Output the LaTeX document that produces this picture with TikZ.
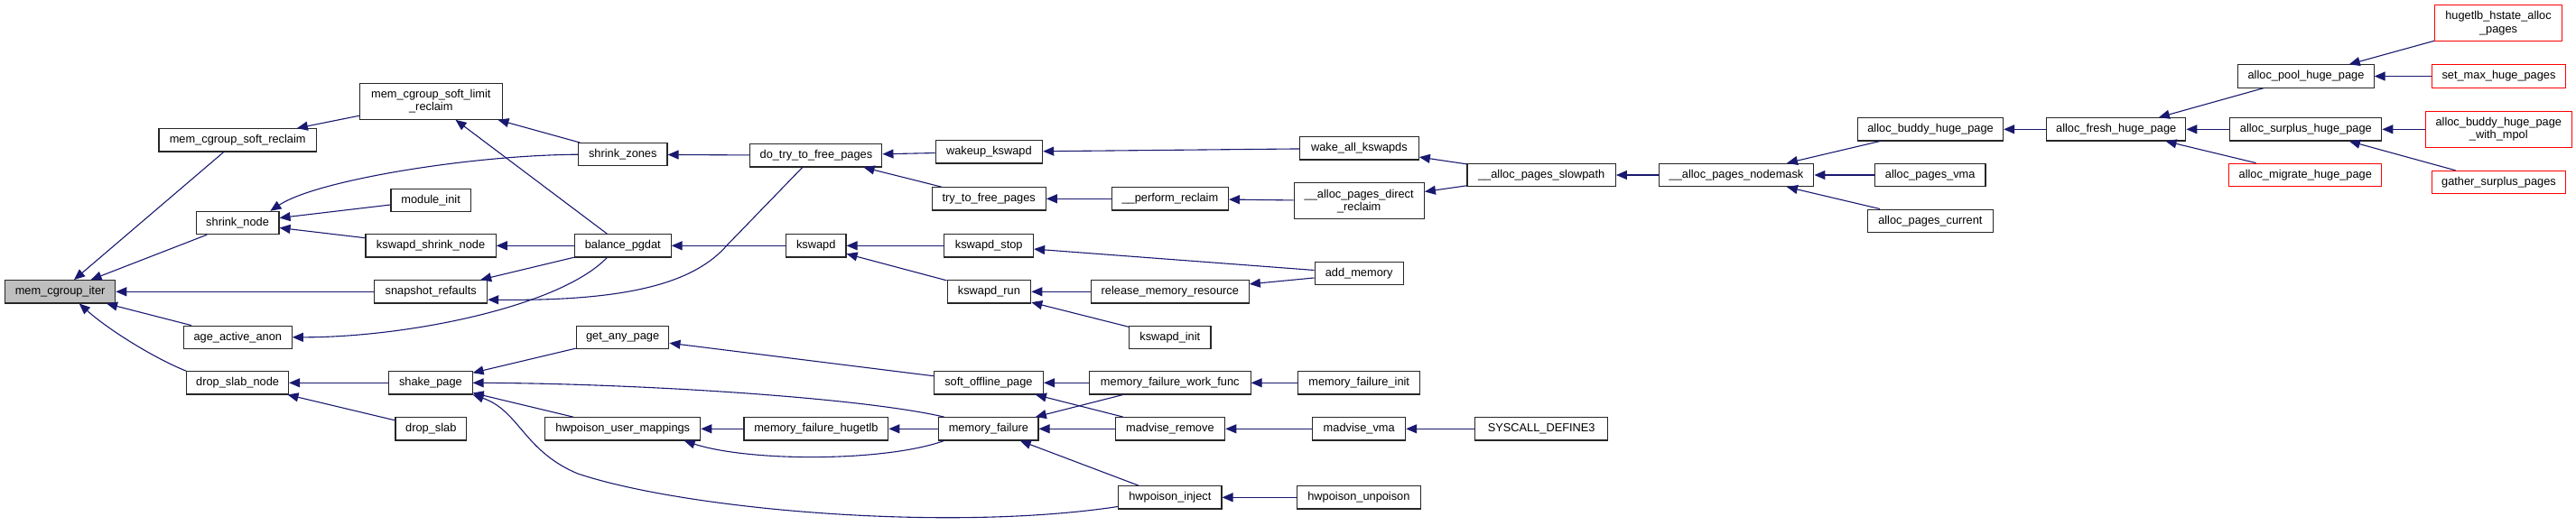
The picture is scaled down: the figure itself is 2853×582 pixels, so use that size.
\documentclass[tikz,border=0pt]{standalone}
\usepackage{fontspec}
\setmainfont{Liberation Sans}
\usetikzlibrary{arrows.meta}
\definecolor{edgeblue}{HTML}{191970}
\definecolor{rootgray}{HTML}{BFBFBF}
\tikzset{
  fnbox/.style={draw=black!85, line width=1.1pt, fill=white, align=center,
                inner sep=2pt, minimum height=25.3pt,
                font=\fontsize{12.8}{14.2}\selectfont},
  tallbox/.style={minimum height=40pt},
  rootbox/.style={fnbox, fill=rootgray},
  redbox/.style={fnbox, draw=red},
  callarrow/.style={{Triangle[length=12pt, width=10pt]}-, draw=edgeblue,
                    line width=1.1pt}
}

\begin{document}
\begin{tikzpicture}[x=1pt, y=1pt]
  \useasboundingbox (0,0) rectangle (2853,-582);

  \node[rootbox, minimum width=122.2pt] (iter) at (66.6,-323.3) {mem\_cgroup\_iter};

  \node[fnbox, minimum width=174.5pt] (softReclaim) at (263.2,-155.3) {mem\_cgroup\_soft\_reclaim};
  \node[fnbox, minimum width=91.8pt] (shrinkNode) at (263.1,-247) {shrink\_node};
  \node[fnbox, minimum width=119.9pt] (ageAnon) at (263.3,-373.8) {age\_active\_anon};
  \node[fnbox, minimum width=113pt] (dropSlabNode) at (263.1,-424.3) {drop\_slab\_node};

  \node[fnbox, tallbox, minimum width=157.5pt] (softLimit) at (477.3,-112.3) {mem\_cgroup\_soft\_limit\\\_reclaim};
  \node[fnbox, minimum width=88.2pt] (moduleInit) at (477.1,-221.7) {module\_init};
  \node[fnbox, minimum width=144.2pt] (kswapdShrink) at (477.1,-272.3) {kswapd\_shrink\_node};
  \node[fnbox, minimum width=124.9pt] (snapshot) at (477.2,-323.3) {snapshot\_refaults};
  \node[fnbox, minimum width=92.3pt] (shakePage) at (476.9,-424.3) {shake\_page};
  \node[fnbox, minimum width=78.6pt] (dropSlab) at (477.3,-475.3) {drop\_slab};

  \node[fnbox, minimum width=98.4pt] (shrinkZones) at (689.8,-171.2) {shrink\_zones};
  \node[fnbox, minimum width=106.7pt] (balance) at (689.8,-272.3) {balance\_pgdat};
  \node[fnbox, minimum width=102.6pt] (anyPage) at (689.6,-373.8) {get\_any\_page};
  \node[fnbox, minimum width=171.9pt] (userMap) at (689.8,-475.3) {hwpoison\_user\_mappings};

  \node[fnbox, minimum width=146pt] (doTry) at (903.9,-172.3) {do\_try\_to\_free\_pages};
  \node[fnbox, minimum width=66.6pt] (kswapd) at (903.7,-272.3) {kswapd};
  \node[fnbox, minimum width=159.8pt] (mfHugetlb) at (903.9,-475.3) {memory\_failure\_hugetlb};

  \node[fnbox, minimum width=118.5pt] (wakeup) at (1095.4,-168.3) {wakeup\_kswapd};
  \node[fnbox, minimum width=126.3pt] (tryFree) at (1095.2,-220.3) {try\_to\_free\_pages};
  \node[fnbox, minimum width=98.7pt] (kswapdStop) at (1095.2,-272.3) {kswapd\_stop};
  \node[fnbox, minimum width=92.7pt] (kswapdRun) at (1095.4,-323.3) {kswapd\_run};
  \node[fnbox, minimum width=121.2pt] (softOffline) at (1094.9,-424.3) {soft\_offline\_page};
  \node[fnbox, minimum width=110.2pt] (memFailure) at (1094.9,-475.3) {memory\_failure};

  \node[fnbox, minimum width=129.1pt] (perform) at (1295.9,-220.3) {\_\_perform\_reclaim};
  \node[fnbox, minimum width=175pt] (releaseMem) at (1295.8,-323.3) {release\_memory\_resource};
  \node[fnbox, minimum width=90.4pt] (kswapdInit) at (1295.8,-373.8) {kswapd\_init};
  \node[fnbox, minimum width=178.6pt] (workFunc) at (1295.8,-424.3) {memory\_failure\_work\_func};
  \node[fnbox, minimum width=121.7pt] (madvRemove) at (1295.9,-475.3) {madvise\_remove};
  \node[fnbox, minimum width=114.4pt] (hwInject) at (1295.8,-551.3) {hwpoison\_inject};

  \node[fnbox, minimum width=131.8pt] (wakeAll) at (1505.4,-164.3) {wake\_all\_kswapds};
  \node[fnbox, tallbox, minimum width=144.3pt] (directReclaim) at (1505.2,-222.8) {\_\_alloc\_pages\_direct\\\_reclaim};
  \node[fnbox, minimum width=98.3pt] (addMemory) at (1505.2,-303.2) {add\_memory};
  \node[fnbox, minimum width=135pt] (mfInit) at (1505.2,-424.3) {memory\_failure\_init};
  \node[fnbox, minimum width=102.9pt] (madvVma) at (1505.2,-475.3) {madvise\_vma};
  \node[fnbox, minimum width=136.4pt] (hwUnpoison) at (1504.9,-551.3) {hwpoison\_unpoison};

  \node[fnbox, minimum width=164.4pt] (slowpath) at (1707.2,-194) {\_\_alloc\_pages\_slowpath};
  \node[fnbox, minimum width=147pt] (syscall) at (1707.2,-475.3) {SYSCALL\_DEFINE3};

  \node[fnbox, minimum width=171.8pt] (nodemask) at (1923,-194) {\_\_alloc\_pages\_nodemask};

  \node[fnbox, minimum width=161pt] (buddyHuge) at (2138.1,-143.3) {alloc\_buddy\_huge\_page};
  \node[fnbox, minimum width=122.5pt] (pagesVma) at (2137.7,-194) {alloc\_pages\_vma};
  \node[fnbox, minimum width=138.5pt] (pagesCurrent) at (2137.9,-244.7) {alloc\_pages\_current};

  \node[fnbox, minimum width=154.2pt] (freshHuge) at (2343.7,-143.3) {alloc\_fresh\_huge\_page};

  \node[fnbox, minimum width=150.3pt] (poolHuge) at (2554,-84.5) {alloc\_pool\_huge\_page};
  \node[fnbox, minimum width=168pt] (surplusHuge) at (2553.8,-143.3) {alloc\_surplus\_huge\_page};
  \node[redbox, minimum width=169pt] (migrateHuge) at (2553.3,-193.8) {alloc\_migrate\_huge\_page};

  \node[redbox, tallbox, minimum width=141.2pt] (hstateAlloc) at (2767,-25.7) {hugetlb\_hstate\_alloc\\\_pages};
  \node[redbox, minimum width=148.8pt] (setMax) at (2767.5,-84.5) {set\_max\_huge\_pages};
  \node[redbox, tallbox, minimum width=161.9pt] (buddyMpol) at (2767.3,-143.3) {alloc\_buddy\_huge\_page\\\_with\_mpol};
  \node[redbox, minimum width=148.8pt] (gatherSurplus) at (2767.5,-202) {gather\_surplus\_pages};

  \draw[callarrow] (iter) -- (softReclaim);
  \draw[callarrow] (iter) -- (shrinkNode);
  \draw[callarrow] (iter) -- (snapshot);
  \draw[callarrow] (iter) -- (ageAnon);
  \draw[callarrow] (iter.-32) .. controls (122,-367) and (173,-398) .. (dropSlabNode.north west);
  \draw[callarrow] (softReclaim) -- (softLimit);
  \draw[callarrow] (softLimit) -- (shrinkZones);
  \draw[callarrow] (softLimit) -- (balance);
  \draw[callarrow] (shrinkNode.20) .. controls (350,-200) and (520,-172) .. (shrinkZones.west);
  \draw[callarrow] (shrinkNode) -- (moduleInit);
  \draw[callarrow] (shrinkNode) -- (kswapdShrink);
  \draw[callarrow] (kswapdShrink) -- (balance);
  \draw[callarrow] (snapshot) -- (balance);
  \draw[callarrow] (snapshot.-8) .. controls (700,-334) and (770,-312) .. (805,-272) -- (doTry.-139);
  \draw[callarrow] (ageAnon.east) .. controls (450,-374) and (620,-340) .. (balance.-143.5);
  \draw[callarrow] (dropSlabNode) -- (shakePage);
  \draw[callarrow] (dropSlabNode) -- (dropSlab);
  \draw[callarrow] (shrinkZones) -- (doTry);
  \draw[callarrow] (balance) -- (kswapd);
  \draw[callarrow] (doTry) -- (wakeup);
  \draw[callarrow] (doTry) -- (tryFree);
  \draw[callarrow] (kswapd) -- (kswapdStop);
  \draw[callarrow] (kswapd) -- (kswapdRun);
  \draw[callarrow] (wakeup) -- (wakeAll);
  \draw[callarrow] (tryFree) -- (perform);
  \draw[callarrow] (perform) -- (directReclaim);
  \draw[callarrow] (kswapdStop) -- (addMemory);
  \draw[callarrow] (kswapdRun) -- (releaseMem);
  \draw[callarrow] (kswapdRun) -- (kswapdInit);
  \draw[callarrow] (releaseMem) -- (addMemory);
  \draw[callarrow] (shakePage) -- (anyPage);
  \draw[callarrow] (shakePage.east) .. controls (700,-425) and (950,-440) .. (memFailure.165);
  \draw[callarrow] (shakePage) -- (userMap);
  \draw[callarrow] (shakePage.south east) .. controls (575,-455) and (580,-500) .. (640,-525)
    .. controls (760,-565) and (1050,-590) .. (hwInject.-170);
  \draw[callarrow] (anyPage) -- (softOffline);
  \draw[callarrow] (userMap) -- (mfHugetlb);
  \draw[callarrow] (userMap.-11) .. controls (830,-512) and (980,-512) .. (memFailure.-165);
  \draw[callarrow] (mfHugetlb) -- (memFailure);
  \draw[callarrow] (softOffline) -- (workFunc);
  \draw[callarrow] (softOffline) -- (madvRemove);
  \draw[callarrow] (memFailure) -- (workFunc);
  \draw[callarrow] (memFailure) -- (madvRemove);
  \draw[callarrow] (memFailure) -- (hwInject);
  \draw[callarrow] (workFunc) -- (mfInit);
  \draw[callarrow] (madvRemove) -- (madvVma);
  \draw[callarrow] (hwInject) -- (hwUnpoison);
  \draw[callarrow] (madvVma) -- (syscall);
  \draw[callarrow] (wakeAll) -- (slowpath);
  \draw[callarrow] (directReclaim) -- (slowpath);
  \draw[callarrow] (slowpath) -- (nodemask);
  \draw[callarrow] (nodemask) -- (buddyHuge);
  \draw[callarrow] (nodemask) -- (pagesVma);
  \draw[callarrow] (nodemask) -- (pagesCurrent);
  \draw[callarrow] (buddyHuge) -- (freshHuge);
  \draw[callarrow] (freshHuge) -- (poolHuge);
  \draw[callarrow] (freshHuge) -- (surplusHuge);
  \draw[callarrow] (freshHuge) -- (migrateHuge);
  \draw[callarrow] (poolHuge) -- (hstateAlloc);
  \draw[callarrow] (poolHuge) -- (setMax);
  \draw[callarrow] (surplusHuge) -- (buddyMpol);
  \draw[callarrow] (surplusHuge) -- (gatherSurplus);
\end{tikzpicture}
\end{document}
